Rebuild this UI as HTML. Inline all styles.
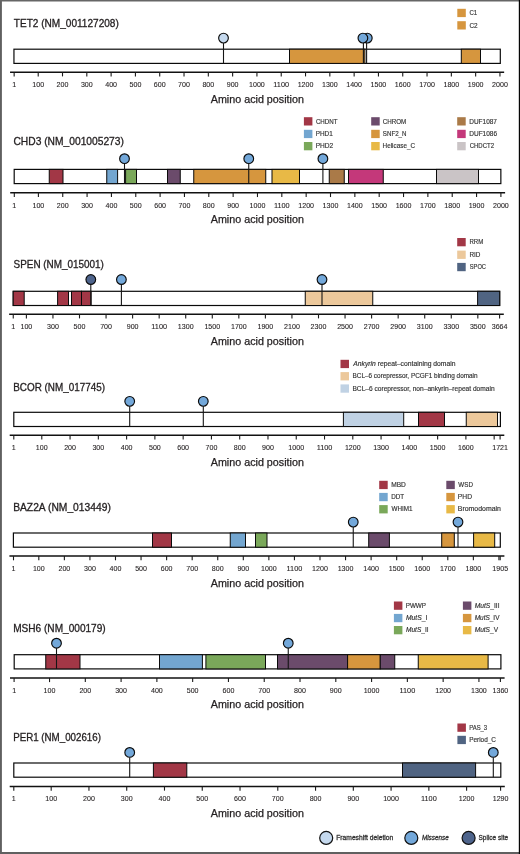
<!DOCTYPE html>
<html><head><meta charset="utf-8"><title>Lollipop plots</title>
<style>
html,body{margin:0;padding:0;background:#fff;}
body{width:520px;height:854px;overflow:hidden;}
svg{display:block;will-change:transform;}
text{font-family:"Liberation Sans", sans-serif;fill:#231f20;}
.ti{font-size:10.3px;stroke:#231f20;stroke-width:0.3px;}
.lg{font-size:6.4px;fill:#333;stroke:#333;stroke-width:0.15px;}
.tk{font-size:7.8px;stroke:#231f20;stroke-width:0.1px;}
.ap{font-size:10.2px;stroke:#231f20;stroke-width:0.25px;}
.bl{font-size:7.2px;fill:#333;stroke:#333;stroke-width:0.3px;}
</style></head>
<body>
<svg width="520" height="854" viewBox="0 0 520 854">
<rect x="0" y="0" width="520" height="854" fill="#fff"/>
<text x="13.78" y="26.6" class="ti" textLength="105.04" lengthAdjust="spacingAndGlyphs">TET2 (NM_001127208)</text>
<rect x="457.3" y="8.8" width="8.5" height="8.3" fill="#D6963E"/>
<text x="469.49" y="15.4" class="lg" textLength="7.7" lengthAdjust="spacingAndGlyphs">C1</text>
<rect x="457.3" y="21.2" width="8.5" height="8.3" fill="#D6963E"/>
<text x="469.48" y="27.8" class="lg" textLength="8.14" lengthAdjust="spacingAndGlyphs">C2</text>
<rect x="13.95" y="49.2" width="486.35" height="14.2" fill="#fff" stroke="#0a0a0a" stroke-width="1.2"/>
<rect x="289.5" y="49.2" width="75.4" height="14.2" fill="#D6963E" stroke="#0a0a0a" stroke-width="1.0"/>
<rect x="461.3" y="49.2" width="19.2" height="14.2" fill="#D6963E" stroke="#0a0a0a" stroke-width="1.0"/>
<line x1="10.05" y1="72.2" x2="504.15" y2="72.2" stroke="#111" stroke-width="1.5"/>
<line x1="14.15" y1="72.2" x2="14.15" y2="76.4" stroke="#1a1a1a" stroke-width="1.1"/>
<text x="12.18" y="87" class="tk" textLength="3.95" lengthAdjust="spacingAndGlyphs">1</text>
<line x1="38.21" y1="72.2" x2="38.21" y2="76.4" stroke="#1a1a1a" stroke-width="1.1"/>
<text x="32.29" y="87" class="tk" textLength="11.84" lengthAdjust="spacingAndGlyphs">100</text>
<line x1="62.51" y1="72.2" x2="62.51" y2="76.4" stroke="#1a1a1a" stroke-width="1.1"/>
<text x="56.59" y="87" class="tk" textLength="11.84" lengthAdjust="spacingAndGlyphs">200</text>
<line x1="86.81" y1="72.2" x2="86.81" y2="76.4" stroke="#1a1a1a" stroke-width="1.1"/>
<text x="80.89" y="87" class="tk" textLength="11.84" lengthAdjust="spacingAndGlyphs">300</text>
<line x1="111.12" y1="72.2" x2="111.12" y2="76.4" stroke="#1a1a1a" stroke-width="1.1"/>
<text x="105.19" y="87" class="tk" textLength="11.84" lengthAdjust="spacingAndGlyphs">400</text>
<line x1="135.42" y1="72.2" x2="135.42" y2="76.4" stroke="#1a1a1a" stroke-width="1.1"/>
<text x="129.5" y="87" class="tk" textLength="11.84" lengthAdjust="spacingAndGlyphs">500</text>
<line x1="159.72" y1="72.2" x2="159.72" y2="76.4" stroke="#1a1a1a" stroke-width="1.1"/>
<text x="153.8" y="87" class="tk" textLength="11.84" lengthAdjust="spacingAndGlyphs">600</text>
<line x1="184.02" y1="72.2" x2="184.02" y2="76.4" stroke="#1a1a1a" stroke-width="1.1"/>
<text x="178.1" y="87" class="tk" textLength="11.84" lengthAdjust="spacingAndGlyphs">700</text>
<line x1="208.32" y1="72.2" x2="208.32" y2="76.4" stroke="#1a1a1a" stroke-width="1.1"/>
<text x="202.4" y="87" class="tk" textLength="11.84" lengthAdjust="spacingAndGlyphs">800</text>
<line x1="232.63" y1="72.2" x2="232.63" y2="76.4" stroke="#1a1a1a" stroke-width="1.1"/>
<text x="226.7" y="87" class="tk" textLength="11.84" lengthAdjust="spacingAndGlyphs">900</text>
<line x1="256.93" y1="72.2" x2="256.93" y2="76.4" stroke="#1a1a1a" stroke-width="1.1"/>
<text x="249.03" y="87" class="tk" textLength="15.79" lengthAdjust="spacingAndGlyphs">1000</text>
<line x1="281.23" y1="72.2" x2="281.23" y2="76.4" stroke="#1a1a1a" stroke-width="1.1"/>
<text x="273.34" y="87" class="tk" textLength="15.79" lengthAdjust="spacingAndGlyphs">1100</text>
<line x1="305.53" y1="72.2" x2="305.53" y2="76.4" stroke="#1a1a1a" stroke-width="1.1"/>
<text x="297.64" y="87" class="tk" textLength="15.79" lengthAdjust="spacingAndGlyphs">1200</text>
<line x1="329.83" y1="72.2" x2="329.83" y2="76.4" stroke="#1a1a1a" stroke-width="1.1"/>
<text x="321.94" y="87" class="tk" textLength="15.79" lengthAdjust="spacingAndGlyphs">1300</text>
<line x1="354.14" y1="72.2" x2="354.14" y2="76.4" stroke="#1a1a1a" stroke-width="1.1"/>
<text x="346.24" y="87" class="tk" textLength="15.79" lengthAdjust="spacingAndGlyphs">1400</text>
<line x1="378.44" y1="72.2" x2="378.44" y2="76.4" stroke="#1a1a1a" stroke-width="1.1"/>
<text x="370.54" y="87" class="tk" textLength="15.79" lengthAdjust="spacingAndGlyphs">1500</text>
<line x1="402.74" y1="72.2" x2="402.74" y2="76.4" stroke="#1a1a1a" stroke-width="1.1"/>
<text x="394.85" y="87" class="tk" textLength="15.79" lengthAdjust="spacingAndGlyphs">1600</text>
<line x1="427.04" y1="72.2" x2="427.04" y2="76.4" stroke="#1a1a1a" stroke-width="1.1"/>
<text x="419.15" y="87" class="tk" textLength="15.79" lengthAdjust="spacingAndGlyphs">1700</text>
<line x1="451.35" y1="72.2" x2="451.35" y2="76.4" stroke="#1a1a1a" stroke-width="1.1"/>
<text x="443.45" y="87" class="tk" textLength="15.79" lengthAdjust="spacingAndGlyphs">1800</text>
<line x1="475.65" y1="72.2" x2="475.65" y2="76.4" stroke="#1a1a1a" stroke-width="1.1"/>
<text x="467.75" y="87" class="tk" textLength="15.79" lengthAdjust="spacingAndGlyphs">1900</text>
<line x1="499.95" y1="72.2" x2="499.95" y2="76.4" stroke="#1a1a1a" stroke-width="1.1"/>
<text x="492.05" y="87" class="tk" textLength="15.79" lengthAdjust="spacingAndGlyphs">2000</text>
<text x="210.78" y="102.7" class="ap" textLength="93.12" lengthAdjust="spacingAndGlyphs">Amino acid position</text>
<line x1="223.5" y1="43.1" x2="223.5" y2="63.4" stroke="#151515" stroke-width="1.1"/>
<circle cx="223.5" cy="38.1" r="4.85" fill="#C5D9EE" stroke="#0a0a0a" stroke-width="1.15"/>
<line x1="366.6" y1="43.1" x2="366.6" y2="63.4" stroke="#151515" stroke-width="1.1"/>
<circle cx="367.3" cy="38.1" r="4.85" fill="#73A8DA" stroke="#0a0a0a" stroke-width="1.15"/>
<line x1="363.4" y1="43.1" x2="363.4" y2="63.4" stroke="#151515" stroke-width="1.1"/>
<circle cx="362.9" cy="38.1" r="4.85" fill="#73A8DA" stroke="#0a0a0a" stroke-width="1.15"/>
<text x="13.48" y="145.2" class="ti" textLength="110.46" lengthAdjust="spacingAndGlyphs">CHD3 (NM_001005273)</text>
<rect x="303.9" y="117.2" width="8.5" height="8.3" fill="#A23746"/>
<text x="315.89" y="123.7" class="lg" textLength="21.66" lengthAdjust="spacingAndGlyphs">CHDNT</text>
<rect x="303.9" y="129.8" width="8.5" height="8.3" fill="#73A6D0"/>
<text x="315.68" y="135.9" class="lg" textLength="17.04" lengthAdjust="spacingAndGlyphs">PHD1</text>
<rect x="303.9" y="142" width="8.5" height="8.3" fill="#7AA85A"/>
<text x="315.66" y="148.1" class="lg" textLength="17.57" lengthAdjust="spacingAndGlyphs">PHD2</text>
<rect x="371.2" y="117.2" width="8.5" height="8.3" fill="#6B4B6B"/>
<text x="382.78" y="123.7" class="lg" textLength="23.53" lengthAdjust="spacingAndGlyphs">CHROM</text>
<rect x="371.2" y="129.8" width="8.5" height="8.3" fill="#D6963E"/>
<text x="382.82" y="135.9" class="lg" textLength="23.68" lengthAdjust="spacingAndGlyphs">SNF2_N</text>
<rect x="371.2" y="142" width="8.5" height="8.3" fill="#E8B946"/>
<text x="382.58" y="148.1" class="lg" textLength="32.46" lengthAdjust="spacingAndGlyphs">Helicase_C</text>
<rect x="457.2" y="117.2" width="8.5" height="8.3" fill="#AA7A48"/>
<text x="469.27" y="123.7" class="lg" textLength="27.66" lengthAdjust="spacingAndGlyphs">DUF1087</text>
<rect x="457.2" y="129.8" width="8.5" height="8.3" fill="#C4387A"/>
<text x="469.27" y="135.9" class="lg" textLength="27.82" lengthAdjust="spacingAndGlyphs">DUF1086</text>
<rect x="457.2" y="142" width="8.5" height="8.3" fill="#CAC4C6"/>
<text x="469.7" y="148.1" class="lg" textLength="24.31" lengthAdjust="spacingAndGlyphs">CHDCT2</text>
<rect x="14.2" y="169.4" width="486.65" height="14.2" fill="#fff" stroke="#0a0a0a" stroke-width="1.2"/>
<rect x="49.25" y="169.4" width="13.75" height="14.2" fill="#A23746" stroke="#0a0a0a" stroke-width="1.0"/>
<rect x="106.75" y="169.4" width="10.85" height="14.2" fill="#73A6D0" stroke="#0a0a0a" stroke-width="1.0"/>
<rect x="125.6" y="169.4" width="10.9" height="14.2" fill="#7AA85A" stroke="#0a0a0a" stroke-width="1.0"/>
<rect x="167.5" y="169.4" width="12.75" height="14.2" fill="#6B4B6B" stroke="#0a0a0a" stroke-width="1.0"/>
<rect x="193.75" y="169.4" width="72" height="14.2" fill="#D6963E" stroke="#0a0a0a" stroke-width="1.0"/>
<rect x="272" y="169.4" width="27.5" height="14.2" fill="#E8B946" stroke="#0a0a0a" stroke-width="1.0"/>
<rect x="329.25" y="169.4" width="15" height="14.2" fill="#AA7A48" stroke="#0a0a0a" stroke-width="1.0"/>
<rect x="348.5" y="169.4" width="34.75" height="14.2" fill="#C4387A" stroke="#0a0a0a" stroke-width="1.0"/>
<rect x="436.5" y="169.4" width="42" height="14.2" fill="#CAC4C6" stroke="#0a0a0a" stroke-width="1.0"/>
<line x1="10.2" y1="192.85" x2="505.1" y2="192.85" stroke="#111" stroke-width="1.5"/>
<line x1="14.3" y1="192.85" x2="14.3" y2="197.05" stroke="#1a1a1a" stroke-width="1.1"/>
<text x="12.33" y="207.65" class="tk" textLength="3.95" lengthAdjust="spacingAndGlyphs">1</text>
<line x1="38.4" y1="192.85" x2="38.4" y2="197.05" stroke="#1a1a1a" stroke-width="1.1"/>
<text x="32.48" y="207.65" class="tk" textLength="11.84" lengthAdjust="spacingAndGlyphs">100</text>
<line x1="62.74" y1="192.85" x2="62.74" y2="197.05" stroke="#1a1a1a" stroke-width="1.1"/>
<text x="56.82" y="207.65" class="tk" textLength="11.84" lengthAdjust="spacingAndGlyphs">200</text>
<line x1="87.08" y1="192.85" x2="87.08" y2="197.05" stroke="#1a1a1a" stroke-width="1.1"/>
<text x="81.16" y="207.65" class="tk" textLength="11.84" lengthAdjust="spacingAndGlyphs">300</text>
<line x1="111.43" y1="192.85" x2="111.43" y2="197.05" stroke="#1a1a1a" stroke-width="1.1"/>
<text x="105.5" y="207.65" class="tk" textLength="11.84" lengthAdjust="spacingAndGlyphs">400</text>
<line x1="135.77" y1="192.85" x2="135.77" y2="197.05" stroke="#1a1a1a" stroke-width="1.1"/>
<text x="129.85" y="207.65" class="tk" textLength="11.84" lengthAdjust="spacingAndGlyphs">500</text>
<line x1="160.11" y1="192.85" x2="160.11" y2="197.05" stroke="#1a1a1a" stroke-width="1.1"/>
<text x="154.19" y="207.65" class="tk" textLength="11.84" lengthAdjust="spacingAndGlyphs">600</text>
<line x1="184.45" y1="192.85" x2="184.45" y2="197.05" stroke="#1a1a1a" stroke-width="1.1"/>
<text x="178.53" y="207.65" class="tk" textLength="11.84" lengthAdjust="spacingAndGlyphs">700</text>
<line x1="208.79" y1="192.85" x2="208.79" y2="197.05" stroke="#1a1a1a" stroke-width="1.1"/>
<text x="202.87" y="207.65" class="tk" textLength="11.84" lengthAdjust="spacingAndGlyphs">800</text>
<line x1="233.14" y1="192.85" x2="233.14" y2="197.05" stroke="#1a1a1a" stroke-width="1.1"/>
<text x="227.21" y="207.65" class="tk" textLength="11.84" lengthAdjust="spacingAndGlyphs">900</text>
<line x1="257.48" y1="192.85" x2="257.48" y2="197.05" stroke="#1a1a1a" stroke-width="1.1"/>
<text x="249.58" y="207.65" class="tk" textLength="15.79" lengthAdjust="spacingAndGlyphs">1000</text>
<line x1="281.82" y1="192.85" x2="281.82" y2="197.05" stroke="#1a1a1a" stroke-width="1.1"/>
<text x="273.93" y="207.65" class="tk" textLength="15.79" lengthAdjust="spacingAndGlyphs">1100</text>
<line x1="306.16" y1="192.85" x2="306.16" y2="197.05" stroke="#1a1a1a" stroke-width="1.1"/>
<text x="298.27" y="207.65" class="tk" textLength="15.79" lengthAdjust="spacingAndGlyphs">1200</text>
<line x1="330.5" y1="192.85" x2="330.5" y2="197.05" stroke="#1a1a1a" stroke-width="1.1"/>
<text x="322.61" y="207.65" class="tk" textLength="15.79" lengthAdjust="spacingAndGlyphs">1300</text>
<line x1="354.85" y1="192.85" x2="354.85" y2="197.05" stroke="#1a1a1a" stroke-width="1.1"/>
<text x="346.95" y="207.65" class="tk" textLength="15.79" lengthAdjust="spacingAndGlyphs">1400</text>
<line x1="379.19" y1="192.85" x2="379.19" y2="197.05" stroke="#1a1a1a" stroke-width="1.1"/>
<text x="371.29" y="207.65" class="tk" textLength="15.79" lengthAdjust="spacingAndGlyphs">1500</text>
<line x1="403.53" y1="192.85" x2="403.53" y2="197.05" stroke="#1a1a1a" stroke-width="1.1"/>
<text x="395.64" y="207.65" class="tk" textLength="15.79" lengthAdjust="spacingAndGlyphs">1600</text>
<line x1="427.87" y1="192.85" x2="427.87" y2="197.05" stroke="#1a1a1a" stroke-width="1.1"/>
<text x="419.98" y="207.65" class="tk" textLength="15.79" lengthAdjust="spacingAndGlyphs">1700</text>
<line x1="452.22" y1="192.85" x2="452.22" y2="197.05" stroke="#1a1a1a" stroke-width="1.1"/>
<text x="444.32" y="207.65" class="tk" textLength="15.79" lengthAdjust="spacingAndGlyphs">1800</text>
<line x1="476.56" y1="192.85" x2="476.56" y2="197.05" stroke="#1a1a1a" stroke-width="1.1"/>
<text x="468.66" y="207.65" class="tk" textLength="15.79" lengthAdjust="spacingAndGlyphs">1900</text>
<line x1="500.9" y1="192.85" x2="500.9" y2="197.05" stroke="#1a1a1a" stroke-width="1.1"/>
<text x="493" y="207.65" class="tk" textLength="15.79" lengthAdjust="spacingAndGlyphs">2000</text>
<text x="210.78" y="223.35" class="ap" textLength="93.12" lengthAdjust="spacingAndGlyphs">Amino acid position</text>
<line x1="124.5" y1="163.7" x2="124.5" y2="183.6" stroke="#151515" stroke-width="1.1"/>
<circle cx="124.5" cy="158.7" r="4.85" fill="#73A8DA" stroke="#0a0a0a" stroke-width="1.15"/>
<line x1="248.75" y1="163.7" x2="248.75" y2="183.6" stroke="#151515" stroke-width="1.1"/>
<circle cx="248.75" cy="158.7" r="4.85" fill="#73A8DA" stroke="#0a0a0a" stroke-width="1.15"/>
<line x1="322.9" y1="163.7" x2="322.9" y2="183.6" stroke="#151515" stroke-width="1.1"/>
<circle cx="322.9" cy="158.7" r="4.85" fill="#73A8DA" stroke="#0a0a0a" stroke-width="1.15"/>
<text x="13.55" y="268.4" class="ti" textLength="90.36" lengthAdjust="spacingAndGlyphs">SPEN (NM_015001)</text>
<rect x="457.2" y="238" width="8.5" height="8.3" fill="#A23746"/>
<text x="469.5" y="244.1" class="lg" textLength="13.79" lengthAdjust="spacingAndGlyphs">RRM</text>
<rect x="457.2" y="250.6" width="8.5" height="8.3" fill="#ECC89B"/>
<text x="469.48" y="256.7" class="lg" textLength="10.92" lengthAdjust="spacingAndGlyphs">RID</text>
<rect x="457.2" y="262.9" width="8.5" height="8.3" fill="#506482"/>
<text x="469.74" y="269" class="lg" textLength="16.28" lengthAdjust="spacingAndGlyphs">SPOC</text>
<rect x="13.2" y="291.3" width="486.5" height="14.2" fill="#fff" stroke="#0a0a0a" stroke-width="1.2"/>
<rect x="13.2" y="291.3" width="11" height="14.2" fill="#A23746" stroke="#0a0a0a" stroke-width="1.0"/>
<rect x="57.6" y="291.3" width="10.9" height="14.2" fill="#A23746" stroke="#0a0a0a" stroke-width="1.0"/>
<rect x="71.5" y="291.3" width="10" height="14.2" fill="#A23746" stroke="#0a0a0a" stroke-width="1.0"/>
<rect x="81.5" y="291.3" width="9.6" height="14.2" fill="#A23746" stroke="#0a0a0a" stroke-width="1.0"/>
<rect x="305.25" y="291.3" width="67.5" height="14.2" fill="#ECC89B" stroke="#0a0a0a" stroke-width="1.0"/>
<rect x="477.6" y="291.3" width="22.1" height="14.2" fill="#506482" stroke="#0a0a0a" stroke-width="1.0"/>
<line x1="9.15" y1="314.2" x2="503.8" y2="314.2" stroke="#111" stroke-width="1.5"/>
<line x1="13.25" y1="314.2" x2="13.25" y2="318.4" stroke="#1a1a1a" stroke-width="1.1"/>
<text x="11.28" y="329" class="tk" textLength="3.95" lengthAdjust="spacingAndGlyphs">1</text>
<line x1="26.39" y1="314.2" x2="26.39" y2="318.4" stroke="#1a1a1a" stroke-width="1.1"/>
<text x="20.47" y="329" class="tk" textLength="11.84" lengthAdjust="spacingAndGlyphs">100</text>
<line x1="52.95" y1="314.2" x2="52.95" y2="318.4" stroke="#1a1a1a" stroke-width="1.1"/>
<text x="47.03" y="329" class="tk" textLength="11.84" lengthAdjust="spacingAndGlyphs">300</text>
<line x1="79.5" y1="314.2" x2="79.5" y2="318.4" stroke="#1a1a1a" stroke-width="1.1"/>
<text x="73.58" y="329" class="tk" textLength="11.84" lengthAdjust="spacingAndGlyphs">500</text>
<line x1="106.06" y1="314.2" x2="106.06" y2="318.4" stroke="#1a1a1a" stroke-width="1.1"/>
<text x="100.14" y="329" class="tk" textLength="11.84" lengthAdjust="spacingAndGlyphs">700</text>
<line x1="132.61" y1="314.2" x2="132.61" y2="318.4" stroke="#1a1a1a" stroke-width="1.1"/>
<text x="126.69" y="329" class="tk" textLength="11.84" lengthAdjust="spacingAndGlyphs">900</text>
<line x1="159.17" y1="314.2" x2="159.17" y2="318.4" stroke="#1a1a1a" stroke-width="1.1"/>
<text x="151.27" y="329" class="tk" textLength="15.79" lengthAdjust="spacingAndGlyphs">1100</text>
<line x1="185.72" y1="314.2" x2="185.72" y2="318.4" stroke="#1a1a1a" stroke-width="1.1"/>
<text x="177.83" y="329" class="tk" textLength="15.79" lengthAdjust="spacingAndGlyphs">1300</text>
<line x1="212.28" y1="314.2" x2="212.28" y2="318.4" stroke="#1a1a1a" stroke-width="1.1"/>
<text x="204.38" y="329" class="tk" textLength="15.79" lengthAdjust="spacingAndGlyphs">1500</text>
<line x1="238.83" y1="314.2" x2="238.83" y2="318.4" stroke="#1a1a1a" stroke-width="1.1"/>
<text x="230.94" y="329" class="tk" textLength="15.79" lengthAdjust="spacingAndGlyphs">1700</text>
<line x1="265.39" y1="314.2" x2="265.39" y2="318.4" stroke="#1a1a1a" stroke-width="1.1"/>
<text x="257.49" y="329" class="tk" textLength="15.79" lengthAdjust="spacingAndGlyphs">1900</text>
<line x1="291.94" y1="314.2" x2="291.94" y2="318.4" stroke="#1a1a1a" stroke-width="1.1"/>
<text x="284.05" y="329" class="tk" textLength="15.79" lengthAdjust="spacingAndGlyphs">2100</text>
<line x1="318.5" y1="314.2" x2="318.5" y2="318.4" stroke="#1a1a1a" stroke-width="1.1"/>
<text x="310.6" y="329" class="tk" textLength="15.79" lengthAdjust="spacingAndGlyphs">2300</text>
<line x1="345.05" y1="314.2" x2="345.05" y2="318.4" stroke="#1a1a1a" stroke-width="1.1"/>
<text x="337.16" y="329" class="tk" textLength="15.79" lengthAdjust="spacingAndGlyphs">2500</text>
<line x1="371.61" y1="314.2" x2="371.61" y2="318.4" stroke="#1a1a1a" stroke-width="1.1"/>
<text x="363.71" y="329" class="tk" textLength="15.79" lengthAdjust="spacingAndGlyphs">2700</text>
<line x1="398.16" y1="314.2" x2="398.16" y2="318.4" stroke="#1a1a1a" stroke-width="1.1"/>
<text x="390.27" y="329" class="tk" textLength="15.79" lengthAdjust="spacingAndGlyphs">2900</text>
<line x1="424.72" y1="314.2" x2="424.72" y2="318.4" stroke="#1a1a1a" stroke-width="1.1"/>
<text x="416.82" y="329" class="tk" textLength="15.79" lengthAdjust="spacingAndGlyphs">3100</text>
<line x1="451.27" y1="314.2" x2="451.27" y2="318.4" stroke="#1a1a1a" stroke-width="1.1"/>
<text x="443.38" y="329" class="tk" textLength="15.79" lengthAdjust="spacingAndGlyphs">3300</text>
<line x1="477.83" y1="314.2" x2="477.83" y2="318.4" stroke="#1a1a1a" stroke-width="1.1"/>
<text x="469.93" y="329" class="tk" textLength="15.79" lengthAdjust="spacingAndGlyphs">3500</text>
<line x1="499.6" y1="314.2" x2="499.6" y2="318.4" stroke="#1a1a1a" stroke-width="1.1"/>
<text x="491.7" y="329" class="tk" textLength="15.79" lengthAdjust="spacingAndGlyphs">3664</text>
<text x="210.78" y="344.7" class="ap" textLength="93.12" lengthAdjust="spacingAndGlyphs">Amino acid position</text>
<line x1="90.8" y1="284.55" x2="90.8" y2="305.5" stroke="#151515" stroke-width="1.1"/>
<circle cx="90.8" cy="279.55" r="4.85" fill="#4E648C" stroke="#0a0a0a" stroke-width="1.15"/>
<line x1="121.4" y1="284.55" x2="121.4" y2="305.5" stroke="#151515" stroke-width="1.1"/>
<circle cx="121.4" cy="279.55" r="4.85" fill="#73A8DA" stroke="#0a0a0a" stroke-width="1.15"/>
<line x1="322" y1="284.55" x2="322" y2="305.5" stroke="#151515" stroke-width="1.1"/>
<circle cx="322" cy="279.55" r="4.85" fill="#73A8DA" stroke="#0a0a0a" stroke-width="1.15"/>
<text x="13.19" y="390.6" class="ti" textLength="91.83" lengthAdjust="spacingAndGlyphs">BCOR (NM_017745)</text>
<rect x="340.5" y="359.8" width="8.5" height="8.3" fill="#A23746"/>
<text x="353.33" y="365.9" class="lg" textLength="102.11" lengthAdjust="spacingAndGlyphs"><tspan font-style="italic">Ankyrin</tspan> repeat–containing domain</text>
<rect x="340.5" y="372.1" width="8.5" height="8.3" fill="#ECC89B"/>
<text x="352.48" y="378.2" class="lg" textLength="125.14" lengthAdjust="spacingAndGlyphs">BCL–6 corepressor, PCGF1 binding domain</text>
<rect x="340.5" y="384.4" width="8.5" height="8.3" fill="#C0D2E4"/>
<text x="352.46" y="390.5" class="lg" textLength="142.17" lengthAdjust="spacingAndGlyphs">BCL–6 corepressor, non–ankyrin–repeat domain</text>
<rect x="13.8" y="412.3" width="486.6" height="14.2" fill="#fff" stroke="#0a0a0a" stroke-width="1.2"/>
<rect x="343.4" y="412.3" width="60.3" height="14.2" fill="#C0D2E4" stroke="#0a0a0a" stroke-width="1.0"/>
<rect x="418.5" y="412.3" width="26" height="14.2" fill="#A23746" stroke="#0a0a0a" stroke-width="1.0"/>
<rect x="466.25" y="412.3" width="31.25" height="14.2" fill="#ECC89B" stroke="#0a0a0a" stroke-width="1.0"/>
<line x1="9.7" y1="435.3" x2="504.3" y2="435.3" stroke="#111" stroke-width="1.5"/>
<line x1="13.8" y1="435.3" x2="13.8" y2="439.5" stroke="#1a1a1a" stroke-width="1.1"/>
<text x="11.83" y="450.1" class="tk" textLength="3.95" lengthAdjust="spacingAndGlyphs">1</text>
<line x1="41.79" y1="435.3" x2="41.79" y2="439.5" stroke="#1a1a1a" stroke-width="1.1"/>
<text x="35.87" y="450.1" class="tk" textLength="11.84" lengthAdjust="spacingAndGlyphs">100</text>
<line x1="70.06" y1="435.3" x2="70.06" y2="439.5" stroke="#1a1a1a" stroke-width="1.1"/>
<text x="64.14" y="450.1" class="tk" textLength="11.84" lengthAdjust="spacingAndGlyphs">200</text>
<line x1="98.34" y1="435.3" x2="98.34" y2="439.5" stroke="#1a1a1a" stroke-width="1.1"/>
<text x="92.42" y="450.1" class="tk" textLength="11.84" lengthAdjust="spacingAndGlyphs">300</text>
<line x1="126.61" y1="435.3" x2="126.61" y2="439.5" stroke="#1a1a1a" stroke-width="1.1"/>
<text x="120.69" y="450.1" class="tk" textLength="11.84" lengthAdjust="spacingAndGlyphs">400</text>
<line x1="154.88" y1="435.3" x2="154.88" y2="439.5" stroke="#1a1a1a" stroke-width="1.1"/>
<text x="148.96" y="450.1" class="tk" textLength="11.84" lengthAdjust="spacingAndGlyphs">500</text>
<line x1="183.16" y1="435.3" x2="183.16" y2="439.5" stroke="#1a1a1a" stroke-width="1.1"/>
<text x="177.24" y="450.1" class="tk" textLength="11.84" lengthAdjust="spacingAndGlyphs">600</text>
<line x1="211.43" y1="435.3" x2="211.43" y2="439.5" stroke="#1a1a1a" stroke-width="1.1"/>
<text x="205.51" y="450.1" class="tk" textLength="11.84" lengthAdjust="spacingAndGlyphs">700</text>
<line x1="239.7" y1="435.3" x2="239.7" y2="439.5" stroke="#1a1a1a" stroke-width="1.1"/>
<text x="233.78" y="450.1" class="tk" textLength="11.84" lengthAdjust="spacingAndGlyphs">800</text>
<line x1="267.98" y1="435.3" x2="267.98" y2="439.5" stroke="#1a1a1a" stroke-width="1.1"/>
<text x="262.06" y="450.1" class="tk" textLength="11.84" lengthAdjust="spacingAndGlyphs">900</text>
<line x1="296.25" y1="435.3" x2="296.25" y2="439.5" stroke="#1a1a1a" stroke-width="1.1"/>
<text x="288.35" y="450.1" class="tk" textLength="15.79" lengthAdjust="spacingAndGlyphs">1000</text>
<line x1="324.52" y1="435.3" x2="324.52" y2="439.5" stroke="#1a1a1a" stroke-width="1.1"/>
<text x="316.63" y="450.1" class="tk" textLength="15.79" lengthAdjust="spacingAndGlyphs">1100</text>
<line x1="352.8" y1="435.3" x2="352.8" y2="439.5" stroke="#1a1a1a" stroke-width="1.1"/>
<text x="344.9" y="450.1" class="tk" textLength="15.79" lengthAdjust="spacingAndGlyphs">1200</text>
<line x1="381.07" y1="435.3" x2="381.07" y2="439.5" stroke="#1a1a1a" stroke-width="1.1"/>
<text x="373.17" y="450.1" class="tk" textLength="15.79" lengthAdjust="spacingAndGlyphs">1300</text>
<line x1="409.34" y1="435.3" x2="409.34" y2="439.5" stroke="#1a1a1a" stroke-width="1.1"/>
<text x="401.45" y="450.1" class="tk" textLength="15.79" lengthAdjust="spacingAndGlyphs">1400</text>
<line x1="437.62" y1="435.3" x2="437.62" y2="439.5" stroke="#1a1a1a" stroke-width="1.1"/>
<text x="429.72" y="450.1" class="tk" textLength="15.79" lengthAdjust="spacingAndGlyphs">1500</text>
<line x1="465.89" y1="435.3" x2="465.89" y2="439.5" stroke="#1a1a1a" stroke-width="1.1"/>
<text x="457.99" y="450.1" class="tk" textLength="15.79" lengthAdjust="spacingAndGlyphs">1600</text>
<line x1="494.16" y1="435.3" x2="494.16" y2="439.5" stroke="#1a1a1a" stroke-width="1.1"/>
<line x1="500.1" y1="435.3" x2="500.1" y2="439.5" stroke="#1a1a1a" stroke-width="1.1"/>
<text x="492.2" y="450.1" class="tk" textLength="15.79" lengthAdjust="spacingAndGlyphs">1721</text>
<text x="210.78" y="465.8" class="ap" textLength="93.12" lengthAdjust="spacingAndGlyphs">Amino acid position</text>
<line x1="129.7" y1="406.35" x2="129.7" y2="426.5" stroke="#151515" stroke-width="1.1"/>
<circle cx="129.7" cy="401.35" r="4.85" fill="#73A8DA" stroke="#0a0a0a" stroke-width="1.15"/>
<line x1="203.3" y1="406.35" x2="203.3" y2="426.5" stroke="#151515" stroke-width="1.1"/>
<circle cx="203.3" cy="401.35" r="4.85" fill="#73A8DA" stroke="#0a0a0a" stroke-width="1.15"/>
<text x="13.16" y="510.9" class="ti" textLength="97.67" lengthAdjust="spacingAndGlyphs">BAZ2A (NM_013449)</text>
<rect x="379.2" y="480.8" width="8.5" height="8.3" fill="#A23746"/>
<text x="391.16" y="486.9" class="lg" textLength="14.66" lengthAdjust="spacingAndGlyphs">MBD</text>
<rect x="379.2" y="492.9" width="8.5" height="8.3" fill="#73A6D0"/>
<text x="391.18" y="499" class="lg" textLength="12.96" lengthAdjust="spacingAndGlyphs">DDT</text>
<rect x="379.2" y="505.1" width="8.5" height="8.3" fill="#7AA85A"/>
<text x="391.47" y="511.2" class="lg" textLength="21.04" lengthAdjust="spacingAndGlyphs">WHIM1</text>
<rect x="446.3" y="480.8" width="8.5" height="8.3" fill="#6B4B6B"/>
<text x="458.37" y="486.9" class="lg" textLength="14.53" lengthAdjust="spacingAndGlyphs">WSD</text>
<rect x="446.3" y="492.9" width="8.5" height="8.3" fill="#D6963E"/>
<text x="457.85" y="499" class="lg" textLength="14.17" lengthAdjust="spacingAndGlyphs">PHD</text>
<rect x="446.3" y="505.1" width="8.5" height="8.3" fill="#E8B946"/>
<text x="457.83" y="511.2" class="lg" textLength="43.12" lengthAdjust="spacingAndGlyphs">Bromodomain</text>
<rect x="13.4" y="533" width="486.9" height="14.2" fill="#fff" stroke="#0a0a0a" stroke-width="1.2"/>
<rect x="152.5" y="533" width="19" height="14.2" fill="#A23746" stroke="#0a0a0a" stroke-width="1.0"/>
<rect x="230.25" y="533" width="15.25" height="14.2" fill="#73A6D0" stroke="#0a0a0a" stroke-width="1.0"/>
<rect x="255.5" y="533" width="11.5" height="14.2" fill="#7AA85A" stroke="#0a0a0a" stroke-width="1.0"/>
<rect x="368.7" y="533" width="20.7" height="14.2" fill="#6B4B6B" stroke="#0a0a0a" stroke-width="1.0"/>
<rect x="441.7" y="533" width="12.6" height="14.2" fill="#D6963E" stroke="#0a0a0a" stroke-width="1.0"/>
<rect x="473.6" y="533" width="21.1" height="14.2" fill="#E8B946" stroke="#0a0a0a" stroke-width="1.0"/>
<line x1="9.4" y1="556.1" x2="504.4" y2="556.1" stroke="#111" stroke-width="1.5"/>
<line x1="13.5" y1="556.1" x2="13.5" y2="560.3" stroke="#1a1a1a" stroke-width="1.1"/>
<text x="11.53" y="570.9" class="tk" textLength="3.95" lengthAdjust="spacingAndGlyphs">1</text>
<line x1="38.81" y1="556.1" x2="38.81" y2="560.3" stroke="#1a1a1a" stroke-width="1.1"/>
<text x="32.88" y="570.9" class="tk" textLength="11.84" lengthAdjust="spacingAndGlyphs">100</text>
<line x1="64.37" y1="556.1" x2="64.37" y2="560.3" stroke="#1a1a1a" stroke-width="1.1"/>
<text x="58.45" y="570.9" class="tk" textLength="11.84" lengthAdjust="spacingAndGlyphs">200</text>
<line x1="89.93" y1="556.1" x2="89.93" y2="560.3" stroke="#1a1a1a" stroke-width="1.1"/>
<text x="84.01" y="570.9" class="tk" textLength="11.84" lengthAdjust="spacingAndGlyphs">300</text>
<line x1="115.49" y1="556.1" x2="115.49" y2="560.3" stroke="#1a1a1a" stroke-width="1.1"/>
<text x="109.57" y="570.9" class="tk" textLength="11.84" lengthAdjust="spacingAndGlyphs">400</text>
<line x1="141.05" y1="556.1" x2="141.05" y2="560.3" stroke="#1a1a1a" stroke-width="1.1"/>
<text x="135.13" y="570.9" class="tk" textLength="11.84" lengthAdjust="spacingAndGlyphs">500</text>
<line x1="166.62" y1="556.1" x2="166.62" y2="560.3" stroke="#1a1a1a" stroke-width="1.1"/>
<text x="160.69" y="570.9" class="tk" textLength="11.84" lengthAdjust="spacingAndGlyphs">600</text>
<line x1="192.18" y1="556.1" x2="192.18" y2="560.3" stroke="#1a1a1a" stroke-width="1.1"/>
<text x="186.26" y="570.9" class="tk" textLength="11.84" lengthAdjust="spacingAndGlyphs">700</text>
<line x1="217.74" y1="556.1" x2="217.74" y2="560.3" stroke="#1a1a1a" stroke-width="1.1"/>
<text x="211.82" y="570.9" class="tk" textLength="11.84" lengthAdjust="spacingAndGlyphs">800</text>
<line x1="243.3" y1="556.1" x2="243.3" y2="560.3" stroke="#1a1a1a" stroke-width="1.1"/>
<text x="237.38" y="570.9" class="tk" textLength="11.84" lengthAdjust="spacingAndGlyphs">900</text>
<line x1="268.86" y1="556.1" x2="268.86" y2="560.3" stroke="#1a1a1a" stroke-width="1.1"/>
<text x="260.97" y="570.9" class="tk" textLength="15.79" lengthAdjust="spacingAndGlyphs">1000</text>
<line x1="294.43" y1="556.1" x2="294.43" y2="560.3" stroke="#1a1a1a" stroke-width="1.1"/>
<text x="286.53" y="570.9" class="tk" textLength="15.79" lengthAdjust="spacingAndGlyphs">1100</text>
<line x1="319.99" y1="556.1" x2="319.99" y2="560.3" stroke="#1a1a1a" stroke-width="1.1"/>
<text x="312.09" y="570.9" class="tk" textLength="15.79" lengthAdjust="spacingAndGlyphs">1200</text>
<line x1="345.55" y1="556.1" x2="345.55" y2="560.3" stroke="#1a1a1a" stroke-width="1.1"/>
<text x="337.65" y="570.9" class="tk" textLength="15.79" lengthAdjust="spacingAndGlyphs">1300</text>
<line x1="371.11" y1="556.1" x2="371.11" y2="560.3" stroke="#1a1a1a" stroke-width="1.1"/>
<text x="363.22" y="570.9" class="tk" textLength="15.79" lengthAdjust="spacingAndGlyphs">1400</text>
<line x1="396.67" y1="556.1" x2="396.67" y2="560.3" stroke="#1a1a1a" stroke-width="1.1"/>
<text x="388.78" y="570.9" class="tk" textLength="15.79" lengthAdjust="spacingAndGlyphs">1500</text>
<line x1="422.24" y1="556.1" x2="422.24" y2="560.3" stroke="#1a1a1a" stroke-width="1.1"/>
<text x="414.34" y="570.9" class="tk" textLength="15.79" lengthAdjust="spacingAndGlyphs">1600</text>
<line x1="447.8" y1="556.1" x2="447.8" y2="560.3" stroke="#1a1a1a" stroke-width="1.1"/>
<text x="439.9" y="570.9" class="tk" textLength="15.79" lengthAdjust="spacingAndGlyphs">1700</text>
<line x1="473.36" y1="556.1" x2="473.36" y2="560.3" stroke="#1a1a1a" stroke-width="1.1"/>
<text x="465.46" y="570.9" class="tk" textLength="15.79" lengthAdjust="spacingAndGlyphs">1800</text>
<line x1="498.92" y1="556.1" x2="498.92" y2="560.3" stroke="#1a1a1a" stroke-width="1.1"/>
<line x1="500.2" y1="556.1" x2="500.2" y2="560.3" stroke="#1a1a1a" stroke-width="1.1"/>
<text x="492.3" y="570.9" class="tk" textLength="15.79" lengthAdjust="spacingAndGlyphs">1905</text>
<text x="210.78" y="586.6" class="ap" textLength="93.12" lengthAdjust="spacingAndGlyphs">Amino acid position</text>
<line x1="353.25" y1="527.1" x2="353.25" y2="547.2" stroke="#151515" stroke-width="1.1"/>
<circle cx="353.25" cy="522.1" r="4.85" fill="#73A8DA" stroke="#0a0a0a" stroke-width="1.15"/>
<line x1="458" y1="527.1" x2="458" y2="547.2" stroke="#151515" stroke-width="1.1"/>
<circle cx="458" cy="522.1" r="4.85" fill="#73A8DA" stroke="#0a0a0a" stroke-width="1.15"/>
<text x="13.17" y="632" class="ti" textLength="92.55" lengthAdjust="spacingAndGlyphs">MSH6 (NM_000179)</text>
<rect x="393.9" y="601.5" width="8.5" height="8.3" fill="#A23746"/>
<text x="405.68" y="607.6" class="lg" textLength="20.35" lengthAdjust="spacingAndGlyphs">PWWP</text>
<rect x="393.9" y="613.9" width="8.5" height="8.3" fill="#73A6D0"/>
<text x="405.99" y="620" class="lg" textLength="21.43" lengthAdjust="spacingAndGlyphs"><tspan font-style="italic">MutS</tspan>_I</text>
<rect x="393.9" y="626" width="8.5" height="8.3" fill="#7AA85A"/>
<text x="406" y="632.1" class="lg" textLength="22.61" lengthAdjust="spacingAndGlyphs"><tspan font-style="italic">MutS</tspan>_II</text>
<rect x="462.9" y="601.5" width="8.5" height="8.3" fill="#6B4B6B"/>
<text x="474.69" y="607.6" class="lg" textLength="24.82" lengthAdjust="spacingAndGlyphs"><tspan font-style="italic">MutS</tspan>_III</text>
<rect x="462.9" y="613.9" width="8.5" height="8.3" fill="#D6963E"/>
<text x="474.7" y="620" class="lg" textLength="24.73" lengthAdjust="spacingAndGlyphs"><tspan font-style="italic">MutS</tspan>_IV</text>
<rect x="462.9" y="626" width="8.5" height="8.3" fill="#E8B946"/>
<text x="474.7" y="632.1" class="lg" textLength="23.33" lengthAdjust="spacingAndGlyphs"><tspan font-style="italic">MutS</tspan>_V</text>
<rect x="14.2" y="654.7" width="486.7" height="14.2" fill="#fff" stroke="#0a0a0a" stroke-width="1.2"/>
<rect x="45.75" y="654.7" width="34.25" height="14.2" fill="#A23746" stroke="#0a0a0a" stroke-width="1.0"/>
<rect x="159.5" y="654.7" width="42.9" height="14.2" fill="#73A6D0" stroke="#0a0a0a" stroke-width="1.0"/>
<rect x="205.9" y="654.7" width="59.6" height="14.2" fill="#7AA85A" stroke="#0a0a0a" stroke-width="1.0"/>
<rect x="277.5" y="654.7" width="70.1" height="14.2" fill="#6B4B6B" stroke="#0a0a0a" stroke-width="1.0"/>
<rect x="347.6" y="654.7" width="32.65" height="14.2" fill="#D6963E" stroke="#0a0a0a" stroke-width="1.0"/>
<rect x="380.25" y="654.7" width="14.5" height="14.2" fill="#6B4B6B" stroke="#0a0a0a" stroke-width="1.0"/>
<rect x="418.25" y="654.7" width="69.85" height="14.2" fill="#E8B946" stroke="#0a0a0a" stroke-width="1.0"/>
<line x1="10" y1="677.9" x2="504.6" y2="677.9" stroke="#111" stroke-width="1.5"/>
<line x1="14.1" y1="677.9" x2="14.1" y2="682.1" stroke="#1a1a1a" stroke-width="1.1"/>
<text x="12.13" y="692.7" class="tk" textLength="3.95" lengthAdjust="spacingAndGlyphs">1</text>
<line x1="49.53" y1="677.9" x2="49.53" y2="682.1" stroke="#1a1a1a" stroke-width="1.1"/>
<text x="43.6" y="692.7" class="tk" textLength="11.84" lengthAdjust="spacingAndGlyphs">100</text>
<line x1="85.31" y1="677.9" x2="85.31" y2="682.1" stroke="#1a1a1a" stroke-width="1.1"/>
<text x="79.39" y="692.7" class="tk" textLength="11.84" lengthAdjust="spacingAndGlyphs">200</text>
<line x1="121.09" y1="677.9" x2="121.09" y2="682.1" stroke="#1a1a1a" stroke-width="1.1"/>
<text x="115.17" y="692.7" class="tk" textLength="11.84" lengthAdjust="spacingAndGlyphs">300</text>
<line x1="156.88" y1="677.9" x2="156.88" y2="682.1" stroke="#1a1a1a" stroke-width="1.1"/>
<text x="150.96" y="692.7" class="tk" textLength="11.84" lengthAdjust="spacingAndGlyphs">400</text>
<line x1="192.66" y1="677.9" x2="192.66" y2="682.1" stroke="#1a1a1a" stroke-width="1.1"/>
<text x="186.74" y="692.7" class="tk" textLength="11.84" lengthAdjust="spacingAndGlyphs">500</text>
<line x1="228.44" y1="677.9" x2="228.44" y2="682.1" stroke="#1a1a1a" stroke-width="1.1"/>
<text x="222.52" y="692.7" class="tk" textLength="11.84" lengthAdjust="spacingAndGlyphs">600</text>
<line x1="264.23" y1="677.9" x2="264.23" y2="682.1" stroke="#1a1a1a" stroke-width="1.1"/>
<text x="258.31" y="692.7" class="tk" textLength="11.84" lengthAdjust="spacingAndGlyphs">700</text>
<line x1="300.01" y1="677.9" x2="300.01" y2="682.1" stroke="#1a1a1a" stroke-width="1.1"/>
<text x="294.09" y="692.7" class="tk" textLength="11.84" lengthAdjust="spacingAndGlyphs">800</text>
<line x1="335.8" y1="677.9" x2="335.8" y2="682.1" stroke="#1a1a1a" stroke-width="1.1"/>
<text x="329.87" y="692.7" class="tk" textLength="11.84" lengthAdjust="spacingAndGlyphs">900</text>
<line x1="371.58" y1="677.9" x2="371.58" y2="682.1" stroke="#1a1a1a" stroke-width="1.1"/>
<text x="363.68" y="692.7" class="tk" textLength="15.79" lengthAdjust="spacingAndGlyphs">1000</text>
<line x1="407.36" y1="677.9" x2="407.36" y2="682.1" stroke="#1a1a1a" stroke-width="1.1"/>
<text x="399.47" y="692.7" class="tk" textLength="15.79" lengthAdjust="spacingAndGlyphs">1100</text>
<line x1="443.15" y1="677.9" x2="443.15" y2="682.1" stroke="#1a1a1a" stroke-width="1.1"/>
<text x="435.25" y="692.7" class="tk" textLength="15.79" lengthAdjust="spacingAndGlyphs">1200</text>
<line x1="478.93" y1="677.9" x2="478.93" y2="682.1" stroke="#1a1a1a" stroke-width="1.1"/>
<text x="471.03" y="692.7" class="tk" textLength="15.79" lengthAdjust="spacingAndGlyphs">1300</text>
<line x1="500.4" y1="677.9" x2="500.4" y2="682.1" stroke="#1a1a1a" stroke-width="1.1"/>
<text x="492.5" y="692.7" class="tk" textLength="15.79" lengthAdjust="spacingAndGlyphs">1360</text>
<text x="210.78" y="708.4" class="ap" textLength="93.12" lengthAdjust="spacingAndGlyphs">Amino acid position</text>
<line x1="56.5" y1="648.2" x2="56.5" y2="668.9" stroke="#151515" stroke-width="1.1"/>
<circle cx="56.5" cy="643.2" r="4.85" fill="#73A8DA" stroke="#0a0a0a" stroke-width="1.15"/>
<line x1="288.25" y1="648.2" x2="288.25" y2="668.9" stroke="#151515" stroke-width="1.1"/>
<circle cx="288.25" cy="643.2" r="4.85" fill="#73A8DA" stroke="#0a0a0a" stroke-width="1.15"/>
<text x="13.2" y="740.9" class="ti" textLength="87.7" lengthAdjust="spacingAndGlyphs">PER1 (NM_002616)</text>
<rect x="457.4" y="723.5" width="8.5" height="8.3" fill="#A23746"/>
<text x="469.23" y="729.6" class="lg" textLength="17.93" lengthAdjust="spacingAndGlyphs">PAS_3</text>
<rect x="457.4" y="735.8" width="8.5" height="8.3" fill="#506482"/>
<text x="469.17" y="741.9" class="lg" textLength="26.77" lengthAdjust="spacingAndGlyphs">Period_C</text>
<rect x="13.8" y="763" width="487" height="14.2" fill="#fff" stroke="#0a0a0a" stroke-width="1.2"/>
<rect x="153.4" y="763" width="33.4" height="14.2" fill="#A23746" stroke="#0a0a0a" stroke-width="1.0"/>
<rect x="402.5" y="763" width="73.1" height="14.2" fill="#506482" stroke="#0a0a0a" stroke-width="1.0"/>
<line x1="9.7" y1="786.45" x2="504.8" y2="786.45" stroke="#111" stroke-width="1.5"/>
<line x1="13.8" y1="786.45" x2="13.8" y2="790.65" stroke="#1a1a1a" stroke-width="1.1"/>
<text x="11.83" y="801.25" class="tk" textLength="3.95" lengthAdjust="spacingAndGlyphs">1</text>
<line x1="51.19" y1="786.45" x2="51.19" y2="790.65" stroke="#1a1a1a" stroke-width="1.1"/>
<text x="45.27" y="801.25" class="tk" textLength="11.84" lengthAdjust="spacingAndGlyphs">100</text>
<line x1="88.95" y1="786.45" x2="88.95" y2="790.65" stroke="#1a1a1a" stroke-width="1.1"/>
<text x="83.03" y="801.25" class="tk" textLength="11.84" lengthAdjust="spacingAndGlyphs">200</text>
<line x1="126.72" y1="786.45" x2="126.72" y2="790.65" stroke="#1a1a1a" stroke-width="1.1"/>
<text x="120.8" y="801.25" class="tk" textLength="11.84" lengthAdjust="spacingAndGlyphs">300</text>
<line x1="164.49" y1="786.45" x2="164.49" y2="790.65" stroke="#1a1a1a" stroke-width="1.1"/>
<text x="158.56" y="801.25" class="tk" textLength="11.84" lengthAdjust="spacingAndGlyphs">400</text>
<line x1="202.25" y1="786.45" x2="202.25" y2="790.65" stroke="#1a1a1a" stroke-width="1.1"/>
<text x="196.33" y="801.25" class="tk" textLength="11.84" lengthAdjust="spacingAndGlyphs">500</text>
<line x1="240.02" y1="786.45" x2="240.02" y2="790.65" stroke="#1a1a1a" stroke-width="1.1"/>
<text x="234.1" y="801.25" class="tk" textLength="11.84" lengthAdjust="spacingAndGlyphs">600</text>
<line x1="277.78" y1="786.45" x2="277.78" y2="790.65" stroke="#1a1a1a" stroke-width="1.1"/>
<text x="271.86" y="801.25" class="tk" textLength="11.84" lengthAdjust="spacingAndGlyphs">700</text>
<line x1="315.55" y1="786.45" x2="315.55" y2="790.65" stroke="#1a1a1a" stroke-width="1.1"/>
<text x="309.63" y="801.25" class="tk" textLength="11.84" lengthAdjust="spacingAndGlyphs">800</text>
<line x1="353.31" y1="786.45" x2="353.31" y2="790.65" stroke="#1a1a1a" stroke-width="1.1"/>
<text x="347.39" y="801.25" class="tk" textLength="11.84" lengthAdjust="spacingAndGlyphs">900</text>
<line x1="391.08" y1="786.45" x2="391.08" y2="790.65" stroke="#1a1a1a" stroke-width="1.1"/>
<text x="383.18" y="801.25" class="tk" textLength="15.79" lengthAdjust="spacingAndGlyphs">1000</text>
<line x1="428.85" y1="786.45" x2="428.85" y2="790.65" stroke="#1a1a1a" stroke-width="1.1"/>
<text x="420.95" y="801.25" class="tk" textLength="15.79" lengthAdjust="spacingAndGlyphs">1100</text>
<line x1="466.61" y1="786.45" x2="466.61" y2="790.65" stroke="#1a1a1a" stroke-width="1.1"/>
<text x="458.72" y="801.25" class="tk" textLength="15.79" lengthAdjust="spacingAndGlyphs">1200</text>
<line x1="500.6" y1="786.45" x2="500.6" y2="790.65" stroke="#1a1a1a" stroke-width="1.1"/>
<text x="492.7" y="801.25" class="tk" textLength="15.79" lengthAdjust="spacingAndGlyphs">1290</text>
<text x="210.78" y="816.95" class="ap" textLength="93.12" lengthAdjust="spacingAndGlyphs">Amino acid position</text>
<line x1="129.7" y1="757.4" x2="129.7" y2="777.2" stroke="#151515" stroke-width="1.1"/>
<circle cx="129.7" cy="752.4" r="4.85" fill="#73A8DA" stroke="#0a0a0a" stroke-width="1.15"/>
<line x1="493.3" y1="757.4" x2="493.3" y2="777.2" stroke="#151515" stroke-width="1.1"/>
<circle cx="493.3" cy="752.4" r="4.85" fill="#73A8DA" stroke="#0a0a0a" stroke-width="1.15"/>
<circle cx="326.2" cy="837.9" r="6.5" fill="#C5D9EE" stroke="#111" stroke-width="1.2"/>
<text x="336.25" y="840.4" class="bl" textLength="56.98" lengthAdjust="spacingAndGlyphs">Frameshift deletion</text>
<circle cx="411.3" cy="837.9" r="6.5" fill="#73A8DA" stroke="#111" stroke-width="1.2"/>
<text x="421.9" y="840.4" class="bl" textLength="26.83" lengthAdjust="spacingAndGlyphs"><tspan font-style="italic">Missense</tspan></text>
<circle cx="468.6" cy="837.9" r="6.5" fill="#4E648C" stroke="#111" stroke-width="1.2"/>
<text x="478.51" y="840.4" class="bl" textLength="29.58" lengthAdjust="spacingAndGlyphs">Splice site</text>
<rect x="0" y="0" width="1.9" height="854" fill="#606060"/>
<rect x="0" y="0" width="520" height="1.5" fill="#666"/>
<rect x="0" y="852" width="520" height="2" fill="#606060"/>
<rect x="518.8" y="0" width="1.2" height="854" fill="#050505"/>
</svg>
</body></html>
